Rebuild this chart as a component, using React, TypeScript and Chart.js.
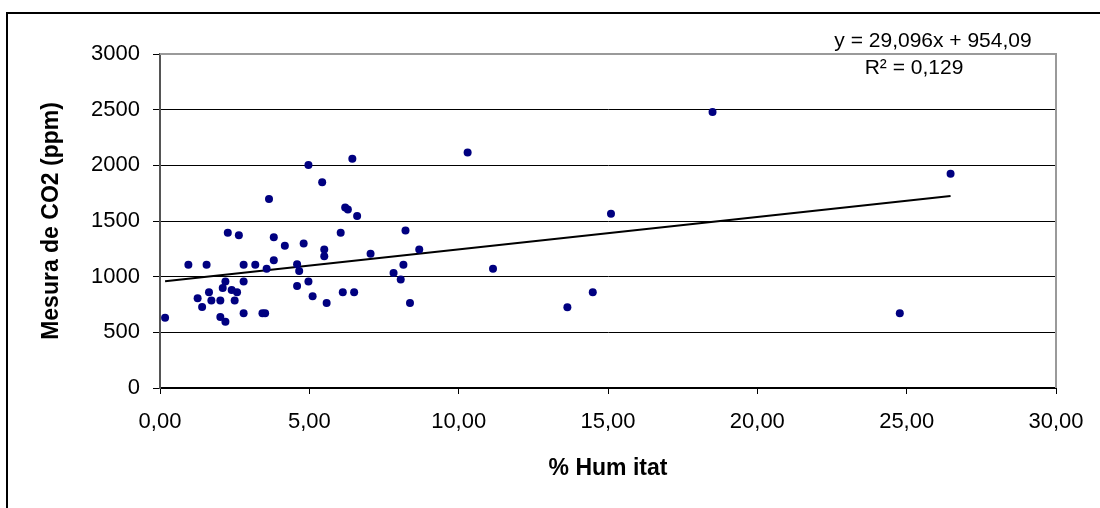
import React, { useEffect, useRef } from "react";
import { Chart, registerables } from "chart.js";

Chart.register(...registerables);

const humitat = [
  0.17, 0.95, 1.56, 1.26, 1.41, 1.64, 1.72, 2.02, 2.02, 2.19,
  2.1, 2.19, 2.27, 2.4, 2.58, 2.5, 2.64, 2.8, 2.8, 2.8,
  3.19, 3.43, 3.52, 3.57, 3.65, 3.81, 3.81, 4.18, 4.59, 4.66,
  4.59, 4.81, 4.97, 4.97, 5.11, 5.43, 5.5, 5.5, 5.58, 6.05,
  6.12, 6.2, 6.29, 6.44, 6.6, 8.22, 8.68, 7.05, 8.15, 7.82,
  8.06, 11.15, 6.5, 8.37, 10.3, 13.64, 14.49, 15.1, 18.5, 24.77,
  26.47,
];
const co2 = [
  632, 1106, 1106, 807, 728, 860, 785, 785, 638, 594,
  899, 956, 1394, 881, 860, 785, 1373, 1106, 956, 672,
  1106, 672, 672, 1070, 1697, 1355, 1148, 1277, 1112, 1052,
  917, 1298, 956, 2003, 825, 1849, 1244, 1184, 764, 1394,
  860, 1621, 1603, 2059, 1545, 1415, 1244, 1205, 1106, 1034,
  974, 1070, 860, 764, 2116, 726, 860, 1565, 2479, 672,
  1924,
];
const trendSlope = 29.096;
const trendIntercept = 954.09;
const equationText = "y = 29,096x + 954,09";
const r2Text = "R² = 0,129";
const xTitle = "% Hum itat";
const yTitle = "Mesura de CO2 (ppm)";

const FONT = "'Liberation Sans', Arial, sans-serif";

export default function App() {
  const ref = useRef<HTMLCanvasElement | null>(null);
  useEffect(() => {
    if (!ref.current) return;
    const tx0 = Math.min(...humitat);
    const tx1 = Math.max(...humitat);
    const trend = [tx0, tx1].map((x) => ({ x, y: trendSlope * x + trendIntercept }));
    const points = humitat.map((x, i) => ({ x, y: co2[i] }));

    const framePlugin = {
      id: "frame",
      beforeDraw(chart: any) {
        const c = chart.ctx;
        c.save();
        c.fillStyle = "#fff";
        c.fillRect(0, 0, chart.width, chart.height);
        c.restore();
      },
      afterDraw(chart: any) {
        const c = chart.ctx;
        const a = chart.chartArea;
        c.save();
        // outer border
        c.strokeStyle = "#000";
        c.lineWidth = 2;
        c.beginPath();
        c.moveTo(7, chart.height + 5);
        c.lineTo(7, 13);
        c.lineTo(chart.width + 5, 13);
        c.stroke();
        // plot right / top border
        c.strokeStyle = "#9a9a9a";
        c.lineWidth = 2;
        c.beginPath();
        c.moveTo(a.left, a.top);
        c.lineTo(a.right, a.top);
        c.lineTo(a.right, a.bottom);
        c.stroke();
        // equation
        c.fillStyle = "#000";
        c.font = `21px ${FONT}`;
        c.textAlign = "center";
        c.textBaseline = "alphabetic";
        c.fillText(equationText, a.right - 123, a.top - 7);
        c.fillText(r2Text, a.right - 142, a.top + 20);
        c.restore();
      },
    };

    const chart = new Chart(ref.current, {
      type: "scatter",
      data: {
        datasets: [
          {
            type: "line",
            data: trend,
            borderColor: "#000",
            borderWidth: 2,
            pointRadius: 0,
            fill: false,
            order: 1,
          } as any,
          {
            data: points,
            backgroundColor: "#000080",
            borderWidth: 0,
            pointRadius: 4,
            order: 0,
          },
        ],
      },
      options: {
        responsive: false,
        animation: false,
        layout: { padding: { left: 0, right: 44, top: 54, bottom: 0 } },
        plugins: { legend: { display: false }, tooltip: { enabled: false } },
        scales: {
          x: {
            type: "linear",
            min: 0,
            max: 30,
            afterFit: (s: any) => {
              s.height = 120;
            },
            afterBuildTicks: (s: any) => {
              s.ticks = [0, 5, 10, 15, 20, 25, 30].map((v) => ({ value: v }));
            },
            ticks: {
              color: "#000",
              font: { family: FONT, size: 22 },
              padding: 15,
              maxRotation: 0,
              callback: (v: any) => Number(v).toFixed(2).replace(".", ","),
            },
            grid: {
              drawOnChartArea: false,
              drawTicks: true,
              tickLength: 6,
              color: "#000",
              lineWidth: 1,
            },
            border: { display: true, color: "#000", width: 2 },
            title: {
              display: true,
              text: xTitle,
              color: "#000",
              font: { family: FONT, size: 23, weight: "bold" },
              padding: { top: 0, bottom: 26 },
            },
          },
          y: {
            type: "linear",
            min: 0,
            max: 3000,
            afterFit: (s: any) => {
              s.width = 160;
            },
            ticks: {
              stepSize: 500,
              color: "#000",
              font: { family: FONT, size: 22 },
              padding: 13,
              callback: (v: any) => String(v),
            },
            grid: {
              drawTicks: true,
              tickLength: 7,
              color: (ctx: any) => (ctx.tick && ctx.tick.value === 3000 ? "rgba(0,0,0,0)" : "#000"),
              tickColor: "#000",
              lineWidth: 1,
            },
            border: { display: true, color: "#555", width: 2 },
            title: {
              display: true,
              text: yTitle,
              color: "#000",
              font: { family: FONT, size: 23, weight: "bold" },
              padding: { top: 38, bottom: 0 },
            },
          },
        },
      },
      plugins: [framePlugin],
    });
    return () => chart.destroy();
  }, []);
  return (
    <div style={{ position: "fixed", left: 0, top: 0, width: 1100, height: 508 }}>
      <canvas ref={ref} width={1100} height={508} style={{ display: "block" }} />
    </div>
  );
}
